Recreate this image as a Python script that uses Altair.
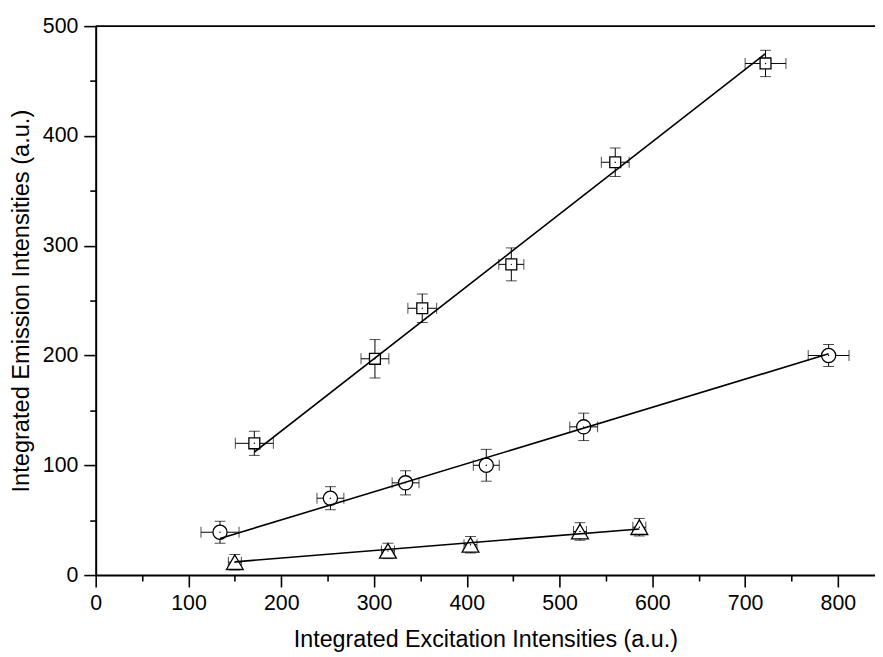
import altair as alt
import pandas as pd

# ---- data ----
series_names = ["square", "circle", "triangle"]

sq_x = [171, 301, 352, 448, 560, 722]
sq_y = [120, 197, 243, 283, 376, 466]
sq_xerr = [20.5, 15, 15.5, 13.5, 15, 22]
sq_yerr = [11, 17.5, 13, 15, 13, 12]

ci_x = [134, 253, 334, 421, 526, 790]
ci_y = [39, 70, 84, 100, 135, 200]
ci_xerr = [20.5, 14.5, 14.5, 14, 15, 22]
ci_yerr = [10, 10.5, 11, 14.5, 12.5, 10]

tr_x = [150, 315, 404, 522, 586]
tr_y = [11.7, 22, 27.6, 39.7, 43.6]
tr_xerr = [7, 7, 7, 7, 7]
tr_yerr = [7, 7, 7.5, 8, 8]

# fitted straight lines (end points)
sq_fit_x = [171, 722]
sq_fit_y = [112, 475]
ci_fit_x = [134, 790]
ci_fit_y = [33.3, 201.5]
tr_fit_x = [150, 586]
tr_fit_y = [12, 42]

x_tick_values = [0, 50, 100, 150, 200, 250, 300, 350, 400, 450, 500, 550, 600, 650, 700, 750, 800]
y_tick_values = [0, 50, 100, 150, 200, 250, 300, 350, 400, 450, 500]
x_domain = [0, 840]
y_domain = [0, 500]
top_value = [500]

# ---- tables ----
rows = []
for name, xs, ys, xe, ye in [
    ("square", sq_x, sq_y, sq_xerr, sq_yerr),
    ("circle", ci_x, ci_y, ci_xerr, ci_yerr),
    ("triangle", tr_x, tr_y, tr_xerr, tr_yerr),
]:
    for x, y, dx, dy in zip(xs, ys, xe, ye):
        rows.append(dict(series=name, x=x, y=y, xlo=x - dx, xhi=x + dx,
                         ylo=y - dy, yhi=y + dy))
df = pd.DataFrame(rows)

fit_rows = []
for name, fx, fy in [("square", sq_fit_x, sq_fit_y),
                     ("circle", ci_fit_x, ci_fit_y),
                     ("triangle", tr_fit_x, tr_fit_y)]:
    for i, (x, y) in enumerate(zip(fx, fy)):
        fit_rows.append(dict(series=name, x=x, y=y, order=i))
fit_df = pd.DataFrame(fit_rows)

W = 786.5
H = 554
FONT = "Liberation Sans"

xscale = alt.Scale(domain=x_domain, nice=False, zero=False)
yscale = alt.Scale(domain=y_domain, nice=False, zero=False)

minor_test = "datum.value % 100 !== 0"
x_axis = alt.Axis(
    values=x_tick_values,
    labelExpr="datum.value % 100 === 0 ? datum.label : ''",
    tickSize={"condition": {"test": minor_test, "value": 6}, "value": 12},
    tickWidth=1.6, tickColor="black",
    domainWidth=2, domainColor="black",
    labelFont=FONT, labelFontSize=21.5, labelColor="black", labelPadding=6,
    labelFlush=False, labelOverlap=False,
    title="Integrated Excitation Intensities (a.u.)",
    titleFont=FONT, titleFontSize=23.5, titleFontWeight="normal",
    titleColor="black", titlePadding=14,
    grid=False,
)
y_axis = alt.Axis(
    values=y_tick_values,
    labelExpr="datum.value % 100 === 0 ? datum.label : ''",
    tickSize={"condition": {"test": minor_test, "value": 6}, "value": 12},
    tickWidth=1.6, tickColor="black",
    domainWidth=2, domainColor="black",
    labelFont=FONT, labelFontSize=21.5, labelColor="black", labelPadding=6,
    labelFlush=False, labelOverlap=False,
    title="Integrated Emission Intensities (a.u.)",
    titleFont=FONT, titleFontSize=23.8, titleFontWeight="normal",
    titleColor="black", titlePadding=9,
    grid=False,
)

base = alt.Chart(df)

x_err = base.mark_rule(color="black", strokeWidth=1).encode(
    x=alt.X("xlo:Q", scale=xscale, axis=x_axis), x2="xhi:Q",
    y=alt.Y("y:Q", scale=yscale, axis=y_axis))
y_err = base.mark_rule(color="black", strokeWidth=1).encode(
    x=alt.X("x:Q", scale=xscale), y=alt.Y("ylo:Q", scale=yscale), y2="yhi:Q")

cap_l = base.mark_tick(orient="vertical", color="black", thickness=1, size=11).encode(
    x=alt.X("xlo:Q", scale=xscale), y=alt.Y("y:Q", scale=yscale))
cap_r = base.mark_tick(orient="vertical", color="black", thickness=1, size=11).encode(
    x=alt.X("xhi:Q", scale=xscale), y=alt.Y("y:Q", scale=yscale))
cap_b = base.mark_tick(orient="horizontal", color="black", thickness=1, size=11).encode(
    x=alt.X("x:Q", scale=xscale), y=alt.Y("ylo:Q", scale=yscale))
cap_t = base.mark_tick(orient="horizontal", color="black", thickness=1, size=11).encode(
    x=alt.X("x:Q", scale=xscale), y=alt.Y("yhi:Q", scale=yscale))

markers = base.mark_point(filled=False, fill="white", fillOpacity=1,
                          color="black", strokeWidth=1.3, opacity=1).encode(
    x=alt.X("x:Q", scale=xscale), y=alt.Y("y:Q", scale=yscale),
    shape=alt.Shape("series:N", scale=alt.Scale(domain=series_names,
                    range=["square", "circle", "triangle-up"]), legend=None),
    size=alt.Size("series:N", scale=alt.Scale(domain=series_names,
                  range=[121, 289, 215]), legend=None),
)

dots = base.mark_circle(color="black", size=2, opacity=1).encode(
    x=alt.X("x:Q", scale=xscale), y=alt.Y("y:Q", scale=yscale))

fits = alt.Chart(fit_df).mark_line(color="black", strokeWidth=1.6).encode(
    x=alt.X("x:Q", scale=xscale), y=alt.Y("y:Q", scale=yscale),
    detail="series:N", order="order:Q")

top_df = pd.DataFrame({"v": top_value})
top_line = alt.Chart(top_df).mark_rule(color="black", strokeWidth=2).encode(
    y=alt.Y("v:Q", scale=yscale), x=alt.value(0), x2=alt.value(W))

chart = alt.layer(
    x_err, y_err, cap_l, cap_r, cap_b, cap_t, markers, fits, dots, top_line
).properties(
    width=W, height=H,
    autosize=alt.AutoSizeParams(type="none"),
    padding={"left": 88.5, "top": 15.3, "right": 0, "bottom": 79.7},
).configure_view(stroke=None).configure(background="white")

chart.save("out.html", embed_options={"renderer": "svg", "actions": False})
